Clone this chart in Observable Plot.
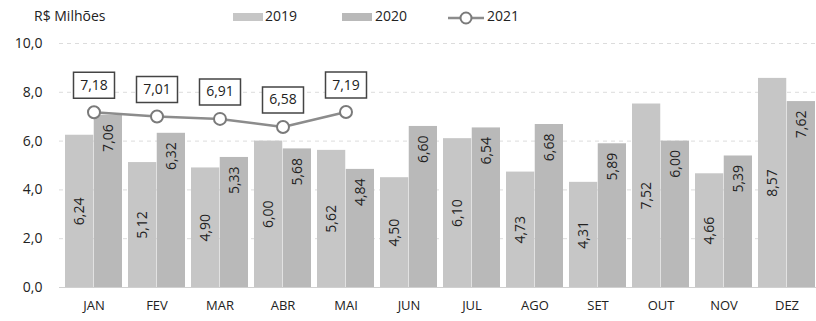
<!DOCTYPE html>
<html>
<head>
<meta charset="utf-8">
<script src="https://cdn.jsdelivr.net/npm/d3@7"></script>
<script src="https://cdn.jsdelivr.net/npm/@observablehq/plot@0.6"></script>
<style>
  html, body { margin: 0; padding: 0; background: #fff; }
  #legend { position: relative; width: 816px; height: 30px; font-family: "Open Sans", sans-serif; font-size: 14px; color: #222; }
  #legend span { position: absolute; top: 6px; line-height: 20px; }
  #legend .sw { position: absolute; top: 13px; height: 8px; width: 30px; }
</style>
</head>
<body>
<div id="legend">
  <span style="left:34px">R$ Milhões</span>
  <div class="sw" style="left:233px;background:#c6c6c6"></div>
  <span style="left:265px">2019</span>
  <div class="sw" style="left:342px;background:#b9b9b9"></div>
  <span style="left:375px">2020</span>
  <svg style="position:absolute;left:446px;top:8px" width="40" height="20">
    <line x1="2" y1="10" x2="38" y2="10" stroke="#8c8c8c" stroke-width="2.5"/>
    <circle cx="20" cy="10" r="5.5" fill="#fff" stroke="#7a7a7a" stroke-width="2"/>
  </svg>
  <span style="left:487px">2021</span>
</div>
<div id="chart"></div>
<script>
const months = ["JAN","FEV","MAR","ABR","MAI","JUN","JUL","AGO","SET","OUT","NOV","DEZ"];
const v2019 = [6.24,5.12,4.90,6.00,5.62,4.50,6.10,4.73,4.31,7.52,4.66,8.57];
const v2020 = [7.06,6.32,5.33,5.68,4.84,6.60,6.54,6.68,5.89,6.00,5.39,7.62];
const months2021 = ["JAN","FEV","MAR","ABR","MAI"];
const v2021 = [7.18,7.01,6.91,6.58,7.19];
const yTicks = [0,2,4,6,8,10];

const d2019 = months.map((m,i) => ({month: m, value: v2019[i]}));
const d2020 = months.map((m,i) => ({month: m, value: v2020[i]}));
const d2021 = months2021.map((m,i) => ({month: m, value: v2021[i]}));

const fmt2 = d => d.toFixed(2).replace(".", ",");
const fmt1 = d => d.toFixed(1).replace(".", ",");

const x0 = 59, x1 = 821;
const bw = (x1 - x0) / months.length;
const gap = 3;

const boxSymbol = { draw(ctx) { ctx.rect(-20.5, -13, 41, 26); } };

const chart = Plot.plot({
  width: 816,
  height: 291,
  marginTop: 13,
  marginBottom: 34,
  marginLeft: 59,
  marginRight: 0,
  style: { fontFamily: "Open Sans, sans-serif", fontSize: "14px", color: "#222", background: "#fff" },
  x: { domain: months, range: [x0, x1], padding: 0 },
  y: { domain: [0, 10] },
  marks: [
    Plot.gridY(yTicks.filter(d => d > 0), { stroke: "#dcdcdc", strokeOpacity: 1, strokeDasharray: "4,4" }),
    Plot.barY(d2019, { x: "month", y: "value", fill: "#c6c6c6", insetLeft: gap, insetRight: bw / 2 }),
    Plot.barY(d2020, { x: "month", y: "value", fill: "#b9b9b9", insetLeft: bw / 2, insetRight: gap }),
    Plot.ruleY([0], { stroke: "#d0d0d0" }),
    Plot.text(d2019, { x: "month", y: d => d.value / 2, text: d => fmt2(d.value), rotate: -90, dx: -(bw / 4) + gap / 2, fill: "#222", fontSize: 14 }),
    Plot.text(d2020, { x: "month", y: "value", text: d => fmt2(d.value), rotate: -90, textAnchor: "end", dy: 9, dx: (bw / 4) - gap / 2, fill: "#222", fontSize: 14 }),
    Plot.line(d2021, { x: "month", y: "value", stroke: "#8c8c8c", strokeWidth: 2.5 }),
    Plot.dot(d2021, { x: "month", y: "value", r: 6, fill: "#fff", stroke: "#7a7a7a", strokeWidth: 2 }),
    Plot.dot(d2021, { x: "month", y: "value", r: 5, symbol: boxSymbol, dy: -27, fill: "#fff", stroke: "#444", strokeWidth: 1.5 }),
    Plot.text(d2021, { x: "month", y: "value", text: d => fmt2(d.value), dy: -27, fill: "#222", fontSize: 14 }),
    Plot.axisY({ ticks: yTicks, tickSize: 0, tickPadding: 17, tickFormat: fmt1, label: null, fontSize: 14 }),
    Plot.axisX({ tickSize: 0, tickPadding: 13, label: null, fontSize: 13 })
  ]
});
document.getElementById("chart").appendChild(chart);
</script>
</body>
</html>
